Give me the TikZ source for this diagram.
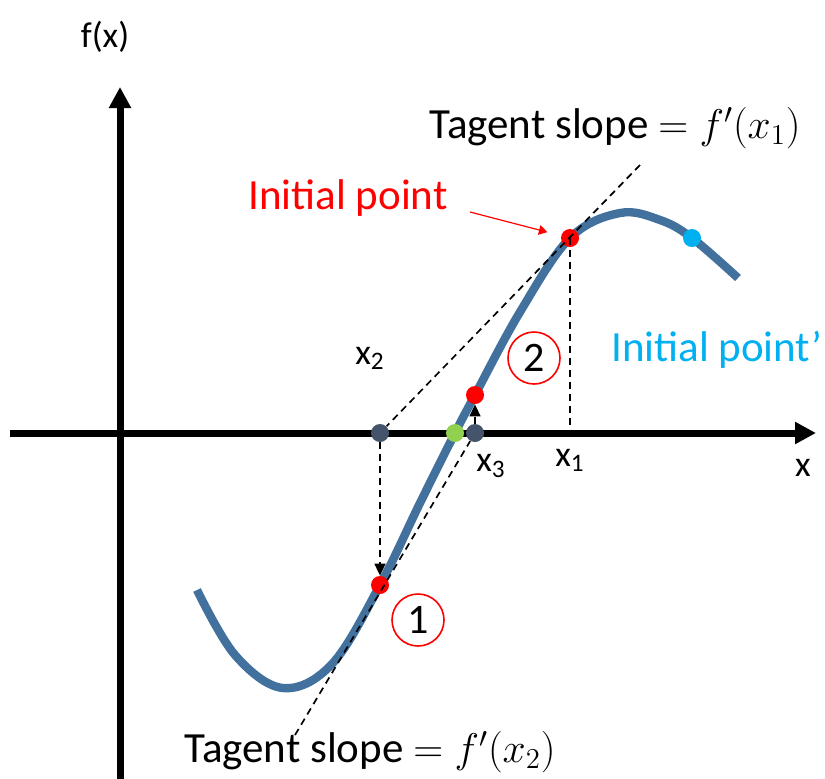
\documentclass[tikz,border=0pt]{standalone}
\usepackage{fontspec}
\setmainfont{Carlito}
\usetikzlibrary{arrows.meta,positioning}
\definecolor{CurveBlue}{HTML}{41719C}
\definecolor{DotGray}{HTML}{44546A}
\definecolor{RootGreen}{HTML}{92D050}
\definecolor{AltCyan}{HTML}{00B0F0}

\begin{document}
\begin{tikzpicture}[x=0.5pt,y=-0.5pt,>=Triangle,
 axis/.style={line width=3.5pt,-{Triangle[width=10.5pt,length=10.5pt]}},
 dot/.style={circle,inner sep=0pt,minimum size=9pt},
 tangent/.style={dash pattern=on 3.5pt off 2.5pt,line width=0.85pt},
 stepline/.style={tangent,-{Triangle[width=5.5pt,length=6pt]}},
 num/.style={circle,draw=red,line width=0.8pt,minimum size=26pt,inner sep=0pt,
             font=\fontsize{21}{25}\selectfont},
 lbl/.style={font=\fontsize{21.5}{26}\selectfont,inner sep=0pt},
 small/.style={font=\fontsize{18}{22}\selectfont,inner sep=0pt}]
\useasboundingbox (0,0) rectangle (825,778);
\coordinate (ybot) at (120,790);
\coordinate (ytop) at (120,87);
\coordinate (xleft) at (10,433);
\coordinate (xright) at (816,433);
\draw[axis] (ybot) -- (ytop);
\draw[axis] (xleft) -- (xright);
\draw[CurveBlue,line width=4.2pt] plot[smooth,tension=0.6] coordinates
 {(197,590) (235,655) (283,688) (332,664) (380,585) (420,503) (455,433)
  (475,395) (520,312) (570,238) (620,213) (660,220) (692,238) (738,278)};
\node[dot,fill=red] (p1) at (570,238) {};
\node[dot,fill=AltCyan] (p1b) at (692,238) {};
\node[dot,fill=DotGray] (x2) at (380,433) {};
\node[dot,fill=red] (p2) at (380,585) {};
\node[dot,fill=RootGreen] (root) at (455,433) {};
\node[dot,fill=DotGray] (x3) at (475,433) {};
\node[dot,fill=red] (p3) at (475,395) {};
\coordinate (x1foot) at (570,433);
\coordinate (t1top) at (640,165);
\coordinate (t2bot) at (295,735);
\coordinate (arrstart) at (470,212);
\draw[tangent] (t1top) -- (x2);
\draw[tangent] (p1.center) -- (x1foot);
\draw[stepline] (x2) -- (p2);
\draw[tangent] (t2bot) -- (x3);
\draw[stepline] (x3) -- (p3);
\draw[->,red,line width=0.6pt,shorten >=7pt] (arrstart) -- (p1);
\node[num] (n2) at (534,358) {2};
\node[num] (n1) at (418,620) {1};
\node[small] (fx) at (105,37) {f(x)};
\node[small] (xaxis) at (803,468) {x};
\node[small] (lx2) at (370,358) {x\textsubscript{2}};
\node[small] (lx3) at (491,466) {x\textsubscript{3}};
\node[small] (lx1) at (570,460) {x\textsubscript{1}};
\node[lbl,text=red] (init) at (348,198) {Initial point};
\node[lbl,text=AltCyan] (init2) at (717,350) {Initial point’};
\node[lbl] (slope1) at (615,128) {Tagent slope $= f'(x_1)$};
\node[lbl] (slope2) at (370,752) {Tagent slope $= f'(x_2)$};
\end{tikzpicture}
\end{document}
